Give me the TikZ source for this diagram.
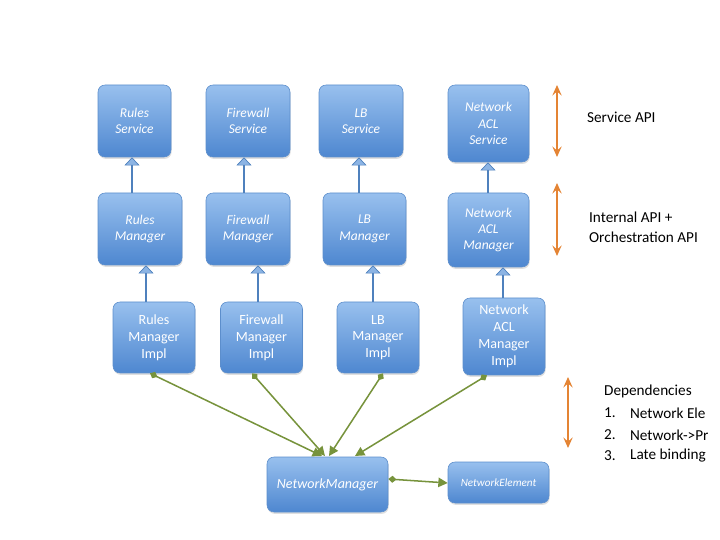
\documentclass[tikz,border=0pt]{standalone}
\usepackage{fontspec}
\setmainfont{Carlito}
\usetikzlibrary{arrows.meta,shadows}

\definecolor{boxTop}{RGB}{152,192,238}
\definecolor{boxBottom}{RGB}{78,135,208}
\definecolor{boxLine}{RGB}{92,142,204}
\definecolor{blueLine}{RGB}{79,129,189}
\definecolor{triFill}{RGB}{140,180,228}
\definecolor{greenArr}{RGB}{119,147,60}
\definecolor{orangeArr}{RGB}{228,132,52}

\tikzset{
  apiBox/.style 2 args={draw=boxLine, line width=0.5pt, rounded corners=6pt,
    top color=boxTop, bottom color=boxBottom, text=white, align=center,
    inner sep=1pt, minimum width=#1*0.03cm, minimum height=#2*0.03cm,
    drop shadow={shadow xshift=0.6pt, shadow yshift=-1.6pt, opacity=0.25}},
  svcText/.style={font=\fontsize{11.5}{14}\selectfont\itshape},
  implText/.style={font=\fontsize{12}{14.4}\selectfont},
  realize/.style={draw=blueLine, line width=1.3pt,
    -{Triangle[length=7pt,width=13pt,fill=triFill,line width=0.6pt]}},
  uses/.style={draw=greenArr, line width=1.3pt,
    {Diamond[length=7pt,width=6pt]}-{Triangle[length=8pt,width=8pt]}},
  layer/.style={draw=orangeArr, line width=1.4pt,
    {Stealth[length=9pt,width=8pt,inset=3.5pt]}-{Stealth[length=9pt,width=8pt,inset=3.5pt]}},
  sideText/.style={font=\fontsize{13}{17}\selectfont, anchor=west, align=left}
}

\begin{document}
\begin{tikzpicture}[x=0.03cm,y=-0.03cm]

% canvas 720 x 540, y grows downwards
\useasboundingbox (0,0) rectangle (720,540);

% --- Service API row ---
\node[apiBox={73}{72}, svcText] (svcRules)    at (134.5,121) {Rules\\Service};
\node[apiBox={84}{72}, svcText] (svcFirewall) at (248,121)   {Firewall\\Service};
\node[apiBox={84}{72}, svcText] (svcLB)       at (361,121)   {LB\\Service};
\node[apiBox={81}{77}, svcText] (svcACL)      at (488.5,123.5) {Network\\ACL\\Service};

% --- Manager row ---
\node[apiBox={84}{72}, svcText] (mgrRules)    at (140,229)   {Rules\\Manager};
\node[apiBox={84}{72}, svcText] (mgrFirewall) at (248,229)   {Firewall\\Manager};
\node[apiBox={83}{72}, svcText] (mgrLB)       at (364.5,229) {LB\\Manager};
\node[apiBox={81}{74}, svcText] (mgrACL)      at (488.5,230) {Network\\ACL\\Manager};

% --- Impl row ---
\node[apiBox={82}{71}, implText] (implRules)    at (154,337.5)   {Rules\\Manager\\Impl};
\node[apiBox={82}{71}, implText] (implFirewall) at (261.5,337.5) {Firewall\\Manager\\Impl};
\node[apiBox={82}{71}, implText] (implLB)       at (378,337.5)   {LB\\Manager\\Impl};
\node[apiBox={82}{77}, implText] (implACL)      at (504,336.5)   {Network\\ACL\\Manager\\Impl};

% --- bottom row ---
\node[apiBox={121}{55}, font=\fontsize{12}{14}\selectfont\itshape] (netMgr)  at (327.5,484.5) {NetworkManager};
\node[apiBox={101}{41}, font=\fontsize{9.5}{12}\selectfont\itshape] (netElem) at (498.5,482.5) {NetworkElement};

% manager -> service
\draw[realize] (mgrRules.north -| 132,0)    -- (svcRules.south -| 132,0);
\draw[realize] (mgrFirewall.north -| 244,0) -- (svcFirewall.south -| 244,0);
\draw[realize] (mgrLB.north -| 359,0)       -- (svcLB.south -| 359,0);
\draw[realize] (mgrACL.north -| 488,0)      -- (svcACL.south -| 488,0);

% impl -> manager
\draw[realize] (implRules.north -| 146,0)    -- (mgrRules.south -| 146,0);
\draw[realize] (implFirewall.north -| 258,0) -- (mgrFirewall.south -| 258,0);
\draw[realize] (implLB.north -| 373,0)       -- (mgrLB.south -| 373,0);
\draw[realize] (implACL.north -| 503,0)      -- (mgrACL.south -| 503,0);

% impl -> NetworkManager
\coordinate (nmTipA) at (322,456);
\coordinate (nmTipB) at (325,456);
\coordinate (nmTipC) at (329,456);
\coordinate (nmTipD) at (355,456);
\draw[uses] (implRules.south -| 150,0)    -- (nmTipA);
\draw[uses] (implFirewall.south -| 252,0) -- (nmTipB);
\draw[uses] (implLB.south -| 383,0)       -- (nmTipC);
\draw[uses] (implACL.south -| 487,0)      -- (nmTipD);

% NetworkManager -> NetworkElement
\draw[uses] (netMgr.east |- 0,479) -- (netElem.west |- 0,483);

% layer markers
\coordinate (svcTop) at (557,85);   \coordinate (svcBot) at (557,157);
\coordinate (intTop) at (557,183);  \coordinate (intBot) at (557,256);
\coordinate (depTop) at (568,377);  \coordinate (depBot) at (568,448);
\draw[layer] (svcTop) -- (svcBot);
\draw[layer] (intTop) -- (intBot);
\draw[layer] (depTop) -- (depBot);

\node[sideText] (lblService)  at (583,117) {Service API};
\node[sideText] (lblInternal) at (585,227) {Internal API +\\Orchestration API};
\node[sideText] (lblDeps)     at (600,391) {Dependencies};
\node[sideText] (depOne)   at (600,413) {1.};
\node[sideText] (depTwo)   at (600,435) {2.};
\node[sideText] (depThree) at (600,456) {3.};
\node[sideText] (depOneTxt)   at (626,413) {Network Ele};
\node[sideText] (depTwoTxt)   at (626,435) {Network->Pr};
\node[sideText] (depThreeTxt) at (626,456) {Late binding};

\end{tikzpicture}
\end{document}
